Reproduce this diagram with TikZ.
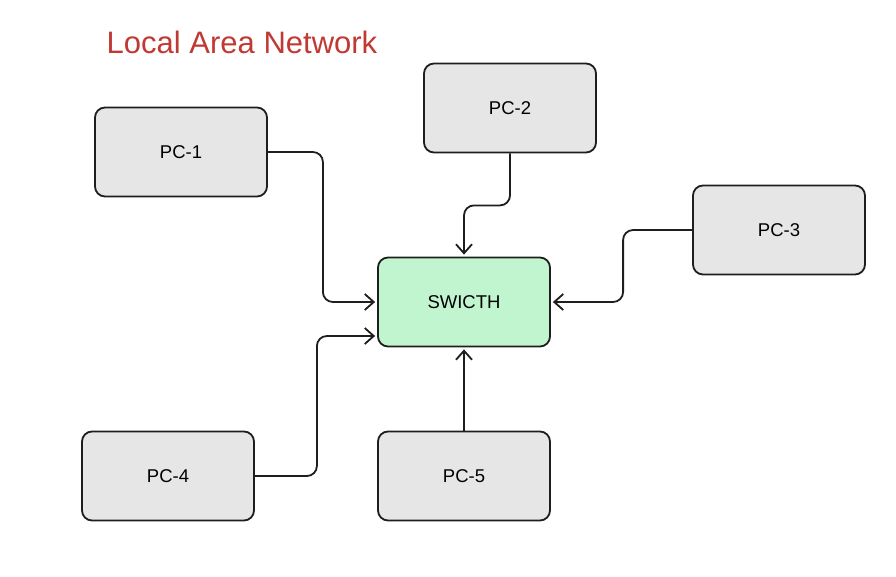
\documentclass[tikz,border=0pt]{standalone}
\usepackage{fontspec}
\setmainfont{Liberation Sans}
\usetikzlibrary{positioning, arrows.meta}

\definecolor{inkgray}{RGB}{30,30,30}
\definecolor{pcfill}{RGB}{230,230,230}
\definecolor{swfill}{RGB}{193,245,207}
\definecolor{titlered}{RGB}{192,57,50}

\tikzset{
    pcbox/.style   = {draw = inkgray, fill = pcfill, line width = 1.8, rounded corners = 10,
                      minimum width = 172, minimum height = 89, font = \fontsize{18.5}{22}\selectfont},
    swbox/.style   = {pcbox, fill = swfill},
    link/.style    = {draw = inkgray, line width = 1.8, rounded corners = 10, shorten > = 2,
                      -{Straight Barb[length = 9pt, width = 16pt, line width = 1.8]}}
}

\begin{document}
\begin{tikzpicture}[x = 1pt, y = -1pt]
    \useasboundingbox (0,0) rectangle (896,576);

    \node [text = titlered, font = \fontsize{31}{36}\selectfont] (title) at (242,42) {Local Area Network};

    \node [pcbox] (pc1)    at (181,152) {PC-1};
    \node [pcbox] (pc2)    at (510,108) {PC-2};
    \node [pcbox] (pc3)    at (779,230) {PC-3};
    \node [swbox] (switch) at (464,302) {SWICTH};
    \node [pcbox] (pc4)    at (168,476) {PC-4};
    \node [pcbox] (pc5)    at (464,476) {PC-5};

    \draw [link] (pc1.east)  -- ++(55,0)  |- (switch.west);
    \draw [link] (pc2.south) -- ++(0,52)  -| (switch.north);
    \draw [link] (pc3.west)  -- ++(-69,0) |- (switch.east);
    \draw [link] (pc4.east)  -- ++(62,0)  |- ([yshift = -34pt]switch.west);
    \draw [link] (pc5.north) -- (switch.south);
\end{tikzpicture}
\end{document}
